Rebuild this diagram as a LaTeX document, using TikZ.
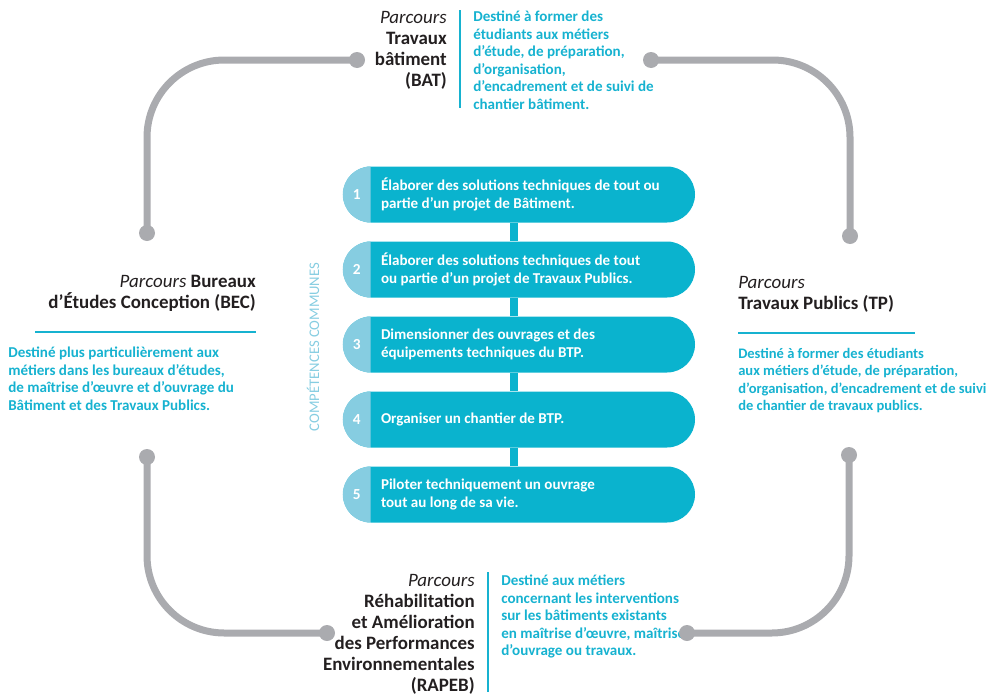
\documentclass[tikz,border=0pt]{standalone}
\usepackage{fontspec}
\setmainfont{Carlito}
\usepackage{tikz}
\usetikzlibrary{positioning,shapes.misc}

\definecolor{railgray}{RGB}{170,171,175}
\definecolor{pillblue}{RGB}{10,179,206}
\definecolor{capblue}{RGB}{134,205,225}
\definecolor{descblue}{RGB}{22,178,208}
\definecolor{titlegray}{RGB}{35,31,32}

\tikzset{
  rail/.style={draw=railgray, line width=5.25pt, rounded corners=58pt},
  raildot/.style={fill=railgray},
  title/.style={inner sep=0pt, text=titlegray, font=\fontsize{14.2}{15.75}\selectfont},
  desc/.style={inner sep=0pt, align=left, text=descblue, font=\fontsize{11.3}{13.1}\selectfont\bfseries},
  rule/.style={draw=descblue, line width=2pt},
  pill/.style={rounded rectangle, fill=pillblue, minimum width=264pt, minimum height=42pt, inner sep=0pt},
  pillbar/.style={draw=pillblue, line width=6pt},
  pilltext/.style={inner sep=0pt, align=left, text=white, font=\fontsize{11.3}{13}\selectfont\bfseries},
  pillnum/.style={inner sep=0pt, text=white, font=\fontsize{11.5}{13}\selectfont\bfseries},
}

\begin{document}
\begin{tikzpicture}[x=0.75pt,y=0.75pt]
\useasboundingbox (0,0) rectangle (991,-696);

% parcours BAT (haut)
\node[title, align=right, anchor=north east] (bat) at (447,-11)
  {\textit{Parcours}\\\textbf{Travaux}\\\textbf{bâtiment}\\\textbf{(BAT)}};
\draw[rule] (460,-10) -- (460,-108);
\node[desc, anchor=north west] (dbat) at (473,-11)
  {Destiné à former des\\étudiants aux métiers\\d’étude, de préparation,\\d’organisation,\\d’encadrement et de suivi de\\chantier bâtiment.};

% parcours BEC (gauche)
\node[title, align=right, anchor=north east] (bec) at (256,-275)
  {\textit{Parcours} \textbf{Bureaux}\\\textbf{d’Études Conception (BEC)}};
\draw[rule] (35,-332) -- (256,-332);
\node[desc, anchor=north west] (dbec) at (8,-347)
  {Destiné plus particulièrement aux\\métiers dans les bureaux d’études,\\de maîtrise d’œuvre et d’ouvrage du\\Bâtiment et des Travaux Publics.};

% parcours TP (droite)
\node[title, align=left, anchor=north west] (tp) at (738,-276)
  {\textit{Parcours}\\\textbf{Travaux Publics (TP)}};
\draw[rule] (738,-333) -- (915,-333);
\node[desc, anchor=north west, font=\fontsize{10.9}{13.1}\selectfont\bfseries] (dtp) at (738,-348)
  {Destiné à former des étudiants\\aux métiers d’étude, de préparation,\\d’organisation, d’encadrement et de suivi\\de chantier de travaux publics.};

% parcours RAPEB (bas)
\node[title, align=right, anchor=north east] (rapeb) at (475,-574)
  {\textit{Parcours}\\\textbf{Réhabilitation}\\\textbf{et Amélioration}\\\textbf{des Performances}\\\textbf{Environnementales}\\\textbf{(RAPEB)}};
\draw[rule] (488,-572) -- (488,-692);
\node[desc, anchor=north west] (drapeb) at (501,-575)
  {Destiné aux métiers\\concernant les interventions\\sur les bâtiments existants\\en maîtrise d’œuvre, maîtrise\\d’ouvrage ou travaux.};

% competences communes
\node[rotate=90, inner sep=0pt, text=capblue, font=\fontsize{11}{12}\selectfont] (comp) at (313,-347) {COMPÉTENCES COMMUNES};
\foreach \i/\txt in {
  1/{Élaborer des solutions techniques de tout ou\\partie d’un projet de Bâtiment.},
  2/{Élaborer des solutions techniques de tout\\ou partie d’un projet de Travaux Publics.},
  3/{Dimensionner des ouvrages et des\\équipements techniques du BTP.},
  4/{Organiser un chantier de BTP.},
  5/{Piloter techniquement un ouvrage\\tout au long de sa vie.}}
{
  \node[pill] (p\i) at (519,{-194.5-75*(\i-1)}) {};
  \fill[capblue] ([shift={(28,28)}]p\i.west) arc[start angle=90, end angle=270, radius=21pt] -- cycle;
  \node[pillnum] (n\i) at ([xshift=10.5pt]p\i.west) {\i};
  \node[pilltext, anchor=west] (t\i) at ([xshift=28.5pt]p\i.west) {\txt};
}
\foreach \a/\b in {1/2,2/3,3/4,4/5}
  \draw[pillbar] ([xshift=-3.75pt]p\a.south) -- ([xshift=-3.75pt]p\b.north);

% rails gris
\coordinate (r1) at (147,-233);  \coordinate (r2) at (357,-60);
\coordinate (r3) at (651,-60);   \coordinate (r4) at (850,-236);
\coordinate (r5) at (147,-457);  \coordinate (r6) at (327,-633);
\coordinate (r7) at (687,-633);  \coordinate (r8) at (849,-455);
\draw[rail] (r1) |- (r2);
\draw[rail] (r3) -| (r4);
\draw[rail] (r5) |- (r6);
\draw[rail] (r7) -| (r8);
\foreach \r in {r1,r2,r3,r4,r5,r6,r7,r8}
  \fill[raildot] (\r) circle (8);
\end{tikzpicture}
\end{document}
